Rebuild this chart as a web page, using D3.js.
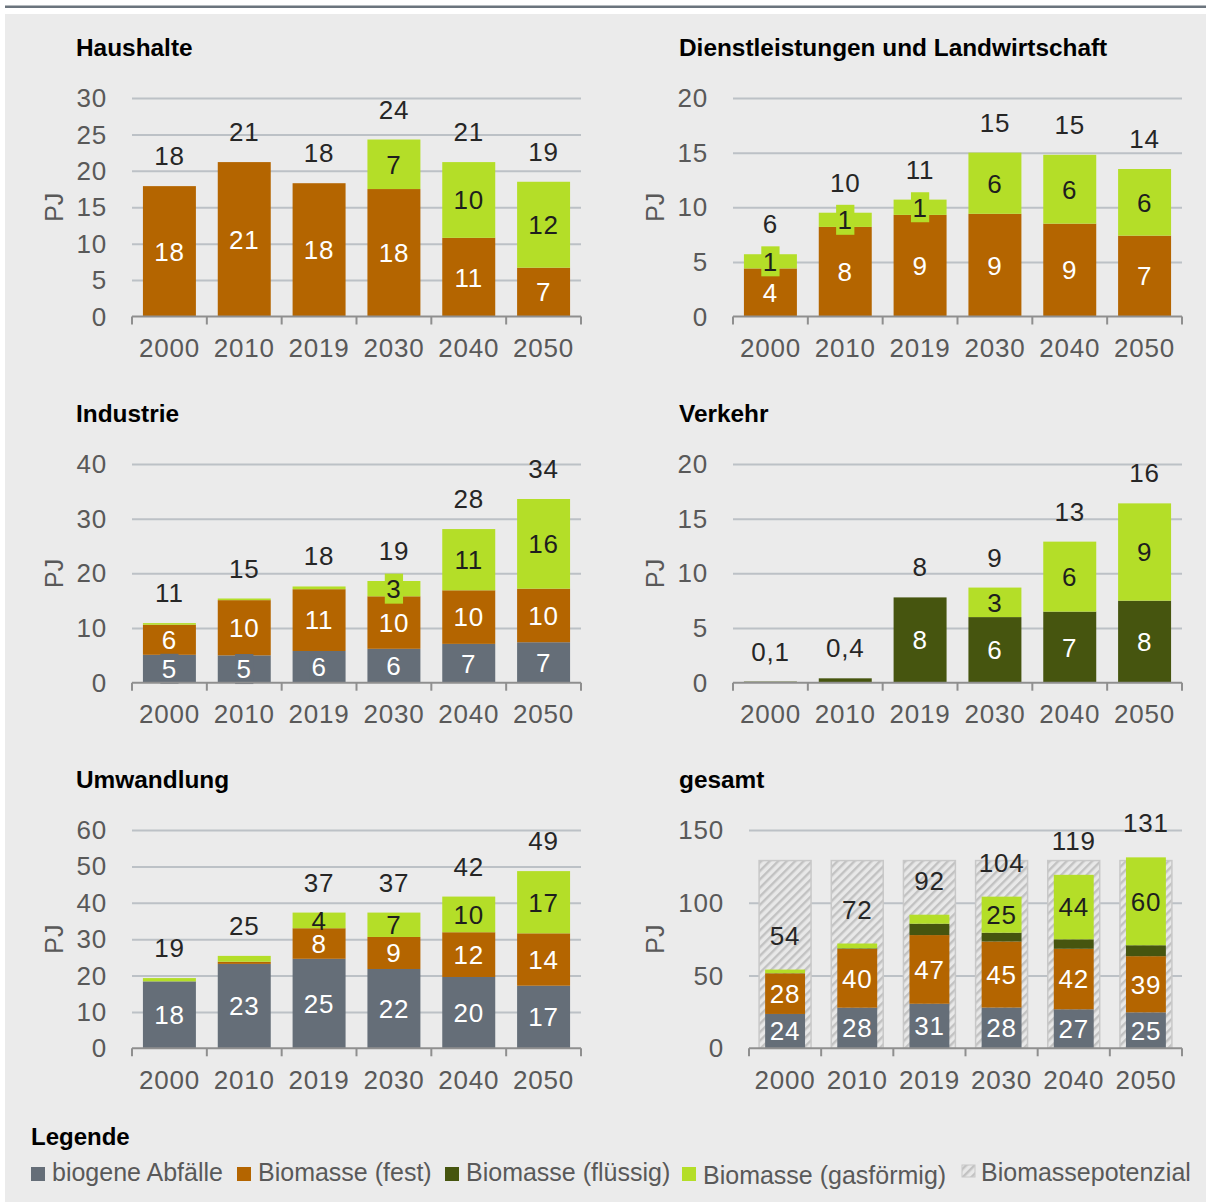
<!DOCTYPE html>
<html lang="de">
<head>
<meta charset="utf-8">
<title>Bioenergie nach Sektoren</title>
<script src="https://cdn.jsdelivr.net/npm/d3@7"></script>
<style>
  body { margin: 0; background: #ffffff; }
  svg { display: block; font-family: "Liberation Sans", Arial, sans-serif; }
</style>
</head>
<body>
<svg id="chart" width="1206" height="1202"></svg>
<script>
// ---- Data (PJ) ----
const years = ["2000", "2010", "2019", "2030", "2040", "2050"];
const seriesKeys = ["abfall", "fest", "fluessig", "gas"];
const seriesNames = ["biogene Abfälle", "Biomasse (fest)", "Biomasse (flüssig)", "Biomasse (gasförmig)"];
const potentialName = "Biomassepotenzial";

const haushalteAbfall   = [0, 0, 0, 0, 0, 0];
const haushalteFest     = [17.9, 21.2, 18.3, 17.5, 10.8, 6.7];
const haushalteFluessig = [0, 0, 0, 0, 0, 0];
const haushalteGas      = [0, 0, 0, 6.8, 10.4, 11.8];

const dienstAbfall   = [0, 0, 0, 0, 0, 0];
const dienstFest     = [4.4, 8.2, 9.3, 9.4, 8.5, 7.4];
const dienstFluessig = [0, 0, 0, 0, 0, 0];
const dienstGas      = [1.3, 1.3, 1.4, 5.6, 6.3, 6.1];

const industrieAbfall   = [5.1, 5.0, 5.8, 6.2, 7.1, 7.4];
const industrieFest     = [5.5, 10.1, 11.3, 9.6, 9.8, 9.8];
const industrieFluessig = [0, 0, 0, 0, 0, 0];
const industrieGas      = [0.3, 0.3, 0.5, 2.8, 11.2, 16.4];

const verkehrAbfall   = [0, 0, 0, 0, 0, 0];
const verkehrFest     = [0, 0, 0, 0, 0, 0];
const verkehrFluessig = [0.1, 0.4, 7.8, 6.0, 6.5, 7.5];
const verkehrGas      = [0, 0, 0, 2.7, 6.4, 8.9];

const umwandlungAbfall   = [18.4, 23.2, 24.6, 21.8, 19.6, 17.2];
const umwandlungFest     = [0, 0.6, 8.4, 8.8, 12.3, 14.4];
const umwandlungFluessig = [0, 0, 0, 0, 0, 0];
const umwandlungGas      = [0.9, 1.6, 4.3, 6.7, 9.8, 17.1];

const gesamtAbfall   = [23.6, 27.9, 30.6, 28.0, 26.8, 24.7];
const gesamtFest     = [27.9, 40.4, 47.2, 45.4, 41.6, 38.6];
const gesamtFluessig = [0.1, 0.4, 7.8, 6.0, 6.5, 7.5];
const gesamtGas      = [2.5, 3.3, 6.2, 24.8, 44.3, 60.4];
const gesamtPotenzial = [129, 129, 129, 129, 129, 129];

// ---- Styling ----
const colors = { abfall: "#656e78", fest: "#b46500", fluessig: "#46550f", gas: "#b4de28" };
const labelColors = { abfall: "#ffffff", fest: "#ffffff", fluessig: "#ffffff", gas: "#1e1e1e" };
const tickColor = "#595959";
const gridColor = "#bcc1c6";
const axisColor = "#8f8f8f";
const panelBg = "#ebebeb";

// Column / row geometry
const cols = [
  { x0: 132, x1: 581, titleX: 76, pjX: 54 },
  { x0: 733, x1: 1182, titleX: 679, pjX: 655 }
];
const rowsGeo = [
  { yTop: 98, yBase: 316.5, titleY: 56 },
  { yTop: 464, yBase: 682.7, titleY: 422 },
  { yTop: 830, yBase: 1048.3, titleY: 788 }
];

const panels = [
  { title: "Haushalte", col: 0, row: 0, yMax: 30, yStep: 5, minLabel: 1,
    values: { abfall: haushalteAbfall, fest: haushalteFest, fluessig: haushalteFluessig, gas: haushalteGas } },
  { title: "Dienstleistungen und Landwirtschaft", col: 1, row: 0, yMax: 20, yStep: 5, minLabel: 1,
    values: { abfall: dienstAbfall, fest: dienstFest, fluessig: dienstFluessig, gas: dienstGas } },
  { title: "Industrie", col: 0, row: 1, yMax: 40, yStep: 10, minLabel: 1,
    values: { abfall: industrieAbfall, fest: industrieFest, fluessig: industrieFluessig, gas: industrieGas } },
  { title: "Verkehr", col: 1, row: 1, yMax: 20, yStep: 5, minLabel: 1,
    values: { abfall: verkehrAbfall, fest: verkehrFest, fluessig: verkehrFluessig, gas: verkehrGas } },
  { title: "Umwandlung", col: 0, row: 2, yMax: 60, yStep: 10, minLabel: 2,
    values: { abfall: umwandlungAbfall, fest: umwandlungFest, fluessig: umwandlungFluessig, gas: umwandlungGas } },
  { title: "gesamt", col: 1, row: 2, yMax: 150, yStep: 50, minLabel: 10, x0: 749, narrow: true,
    values: { abfall: gesamtAbfall, fest: gesamtFest, fluessig: gesamtFluessig, gas: gesamtGas },
    potential: gesamtPotenzial }
];

// Small segment labels that carry a filled box in the segment colour
const boxedLabels = [
  "Dienstleistungen und Landwirtschaft|2000|gas",
  "Dienstleistungen und Landwirtschaft|2010|gas",
  "Dienstleistungen und Landwirtschaft|2019|gas",
  "Industrie|2000|abfall",
  "Industrie|2010|abfall",
  "Industrie|2019|abfall",
  "Industrie|2030|gas"
];

const fmt = v => v < 1 ? d3.format(".1f")(v).replace(".", ",") : String(Math.round(v));
const round1 = v => Math.round(v * 10) / 10;

const svg = d3.select("#chart");

// Frame: top rule and panel background
svg.append("rect").attr("x", 5).attr("y", 5.5).attr("width", 1201).attr("height", 2.5).attr("fill", "#6b747d");
svg.append("rect").attr("x", 5).attr("y", 14).attr("width", 1201).attr("height", 1188).attr("fill", panelBg);

// Hatch pattern for the potential bars
const defs = svg.append("defs");
const pat = defs.append("pattern").attr("id", "hatch").attr("patternUnits", "userSpaceOnUse")
  .attr("width", 6).attr("height", 6).attr("patternTransform", "rotate(45)");
pat.append("rect").attr("width", 6).attr("height", 6).attr("fill", "#e8e8e8");
pat.append("rect").attr("x", 0).attr("width", 2.4).attr("height", 6).attr("fill", "#c2c2c2");

function drawPanel(p) {
  const c = cols[p.col], r = rowsGeo[p.row];
  const x0 = p.x0 !== undefined ? p.x0 : c.x0, x1 = c.x1;
  const pad = p.narrow ? 0.447 : 0.292;
  const g = svg.append("g");

  const x = d3.scaleBand().domain(years).range([x0, x1]).paddingInner(pad).paddingOuter(pad / 2);
  const y = d3.scaleLinear().domain([0, p.yMax]).range([r.yBase, r.yTop]);
  const ticks = d3.range(0, p.yMax + p.yStep / 2, p.yStep);

  // Title
  g.append("text").attr("x", c.titleX).attr("y", r.titleY)
    .attr("font-size", 24.4).attr("font-weight", "bold").attr("fill", "#000").text(p.title);

  // Unit label
  g.append("text")
    .attr("transform", `translate(${c.pjX},${(r.yTop + r.yBase) / 2}) rotate(-90)`)
    .attr("text-anchor", "middle").attr("dominant-baseline", "central")
    .attr("font-size", 25).attr("fill", tickColor).text("PJ");

  // Gridlines
  g.append("g").attr("transform", `translate(${x0},0)`)
    .call(d3.axisLeft(y).tickValues(ticks.slice(1)).tickSize(-(x1 - x0)).tickFormat(""))
    .call(s => s.select(".domain").remove())
    .selectAll("line").attr("stroke", gridColor).attr("stroke-width", 2);

  // Y tick labels
  const ya = g.append("g").attr("transform", `translate(${x0},0)`)
    .call(d3.axisLeft(y).tickValues(ticks).tickSize(0).tickPadding(25).tickFormat(d3.format("d")));
  ya.attr("font-size", null).attr("font-family", null);
  ya.select(".domain").remove();
  ya.selectAll("text").attr("font-size", 26).attr("letter-spacing", "0.8px").attr("fill", tickColor).attr("dy", "0.33em");

  // Potential bars (hatched)
  if (p.potential) {
    const pw = x.step() * 0.72;
    g.append("g").selectAll("rect").data(years).join("rect")
      .attr("x", (d) => x(d) + x.bandwidth() / 2 - pw / 2)
      .attr("y", (d, i) => y(p.potential[i]))
      .attr("width", pw)
      .attr("height", (d, i) => y(0) - y(p.potential[i]))
      .attr("fill", "url(#hatch)").attr("stroke", "#c8c8c8").attr("stroke-width", 1.5);
  }

  // Stacked bars
  const rowsData = years.map((yr, i) => {
    const o = { year: yr };
    seriesKeys.forEach(k => o[k] = p.values[k][i]);
    return o;
  });
  const stacked = d3.stack().keys(seriesKeys)(rowsData);

  stacked.forEach(layer => {
    g.append("g").selectAll("rect").data(layer.filter(d => d[1] - d[0] > 0)).join("rect")
      .attr("x", d => x(d.data.year))
      .attr("y", d => y(d[1]))
      .attr("width", x.bandwidth())
      .attr("height", d => y(d[0]) - y(d[1]))
      .attr("fill", colors[layer.key]);
  });

  // Segment labels
  stacked.forEach(layer => {
    layer.forEach(d => {
      const val = p.values[layer.key][years.indexOf(d.data.year)];
      if (val < p.minLabel) return;
      const cx = x(d.data.year) + x.bandwidth() / 2;
      const cy = (y(d[0]) + y(d[1])) / 2;
      const key = `${p.title}|${d.data.year}|${layer.key}`;
      const t = g.append("text").attr("x", cx).attr("y", cy).attr("dy", "0.36em")
        .attr("text-anchor", "middle").attr("font-size", 26).attr("letter-spacing", "0.8px")
        .attr("fill", labelColors[layer.key]).text(fmt(val));
      if (boxedLabels.includes(key)) {
        const w = t.node().getComputedTextLength() + 3;
        g.insert("rect", () => t.node())
          .attr("x", cx - w / 2).attr("y", cy - 15).attr("width", w).attr("height", 30)
          .attr("fill", colors[layer.key]);
      }
    });
  });

  // Total labels
  const gap = p.narrow ? 25 : 21;
  rowsData.forEach(rw => {
    const total = round1(seriesKeys.reduce((s, k) => s + rw[k], 0));
    g.append("text")
      .attr("x", x(rw.year) + x.bandwidth() / 2)
      .attr("y", y(total) - gap)
      .attr("text-anchor", "middle").attr("font-size", 26).attr("letter-spacing", "0.8px")
      .attr("fill", "#262626").text(fmt(total));
  });

  // X axis: baseline, boundary ticks and category labels
  g.append("line").attr("x1", x0).attr("x2", x1).attr("y1", r.yBase).attr("y2", r.yBase)
    .attr("stroke", axisColor).attr("stroke-width", 2);
  const edge = (x.step() - x.bandwidth()) / 2;
  const bounds = years.map(yr => x(yr) - edge).concat([x(years[years.length - 1]) + x.bandwidth() + edge]);
  g.append("g").selectAll("line").data(bounds).join("line")
    .attr("x1", d => d).attr("x2", d => d).attr("y1", r.yBase).attr("y2", r.yBase + 8)
    .attr("stroke", axisColor).attr("stroke-width", 2);

  const xa = g.append("g").attr("transform", `translate(0,${r.yBase})`)
    .call(d3.axisBottom(x).tickSize(0).tickPadding(22));
  xa.attr("font-size", null).attr("font-family", null);
  xa.select(".domain").remove();
  xa.selectAll("text").attr("font-size", 26).attr("letter-spacing", "0.8px").attr("fill", tickColor);
}

panels.forEach(drawPanel);

// ---- Legend ----
const lg = svg.append("g");
lg.append("text").attr("x", 31).attr("y", 1145).attr("font-size", 24).attr("font-weight", "bold")
  .attr("fill", "#000").text("Legende");

const legendX = [31, 237, 445, 682, 962];
const legendItems = seriesKeys.map((k, i) => ({ name: seriesNames[i], fill: colors[k], dy: k === "gas" ? 3 : 0 }))
  .concat([{ name: potentialName, fill: "url(#hatch)", dy: 0, small: true }]);

legendItems.forEach((it, i) => {
  const lx = legendX[i];
  if (it.small) {
    lg.append("rect").attr("x", lx).attr("y", 1165).attr("width", 13).attr("height", 12)
      .attr("fill", it.fill).attr("stroke", "#c8c8c8").attr("stroke-width", 1);
  } else {
    lg.append("rect").attr("x", lx).attr("y", 1167).attr("width", 14).attr("height", 14).attr("fill", it.fill);
  }
  lg.append("text").attr("x", lx + (it.small ? 19 : 21)).attr("y", 1181 + it.dy)
    .attr("font-size", 25).attr("fill", tickColor).text(it.name);
});
</script>
</body>
</html>
